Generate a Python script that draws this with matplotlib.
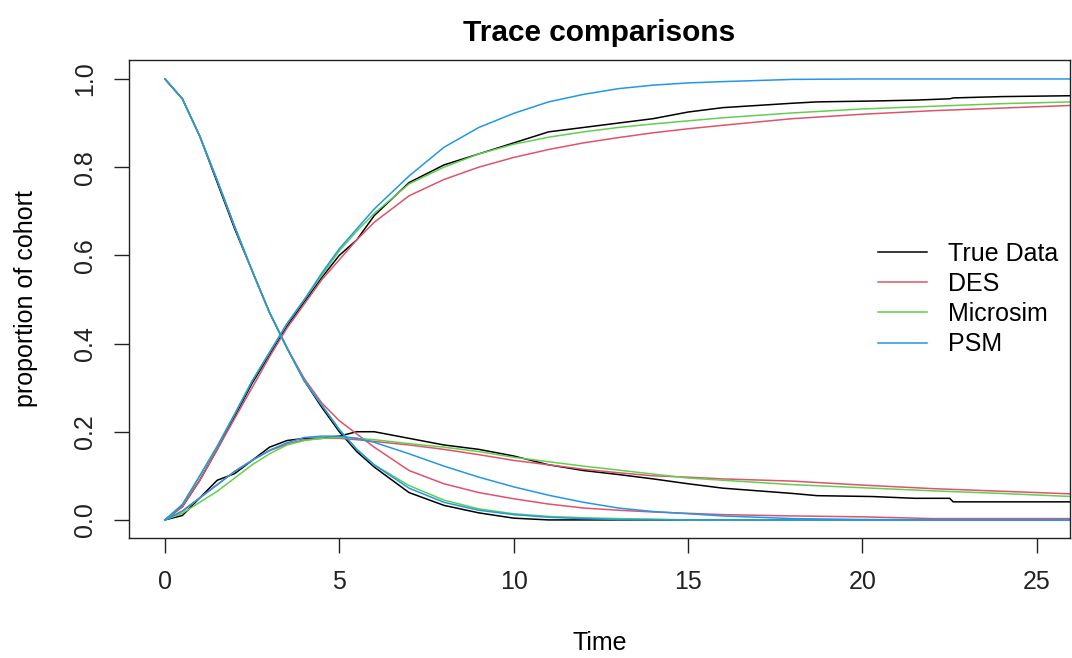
import numpy as np
import matplotlib
matplotlib.use("Agg")
import matplotlib.pyplot as plt

plt.rcParams['font.family'] = ['Liberation Sans', 'DejaVu Sans']

# time grid used for the model traces
t = [0, 0.5, 1, 1.5, 2, 2.5, 3, 3.5, 4, 4.5, 5, 5.5, 6, 7, 8, 9, 10,
     11, 12, 13, 14, 15, 16, 18, 20, 22, 24, 26]

# True Data (own time points, step-like at the end)
t_true = [0, 0.5, 1, 1.5, 2, 2.5, 3, 3.5, 4, 4.5, 5, 5.5, 6, 7, 8, 9, 10,
          11, 12, 13, 14, 15, 16, 18, 18.7, 20.3, 21.5, 22.5, 22.6, 24, 26]
true_pfs = [1.0, 0.955, 0.87, 0.765, 0.66, 0.565, 0.47, 0.39, 0.315, 0.255, 0.2, 0.155, 0.12,
            0.062, 0.033, 0.016, 0.004, 0, 0, 0, 0, 0, 0, 0, 0, 0, 0, 0, 0, 0, 0]
true_prog = [0, 0.01, 0.05, 0.09, 0.105, 0.135, 0.165, 0.18, 0.185, 0.185, 0.19, 0.2, 0.2,
             0.185, 0.17, 0.16, 0.145, 0.125, 0.112, 0.103, 0.093, 0.082, 0.072, 0.06,
             0.055, 0.053, 0.049, 0.049, 0.041, 0.041, 0.041]
true_dead = [0, 0.03, 0.09, 0.16, 0.235, 0.31, 0.375, 0.44, 0.495, 0.55, 0.6, 0.635, 0.69,
             0.765, 0.805, 0.83, 0.855, 0.88, 0.89, 0.9, 0.91, 0.925, 0.935, 0.945,
             0.948, 0.95, 0.952, 0.955, 0.957, 0.96, 0.962]

# DES
des_pfs = [1.0, 0.955, 0.87, 0.77, 0.665, 0.565, 0.47, 0.39, 0.32, 0.265, 0.225, 0.195, 0.165,
           0.112, 0.082, 0.062, 0.048, 0.036, 0.027, 0.022, 0.018, 0.015, 0.012, 0.009,
           0.007, 0.003, 0.003, 0.003]
des_prog = [0, 0.02, 0.05, 0.08, 0.11, 0.135, 0.157, 0.172, 0.182, 0.185, 0.185, 0.182, 0.178,
            0.17, 0.16, 0.148, 0.135, 0.125, 0.115, 0.107, 0.1, 0.097, 0.093, 0.088,
            0.079, 0.071, 0.065, 0.059]
des_dead = [0, 0.03, 0.09, 0.16, 0.23, 0.3, 0.37, 0.435, 0.49, 0.545, 0.59, 0.635, 0.675,
            0.735, 0.772, 0.8, 0.822, 0.84, 0.855, 0.867, 0.878, 0.887, 0.895, 0.91,
            0.92, 0.928, 0.934, 0.94]

# Microsim
mic_pfs = [1.0, 0.955, 0.87, 0.77, 0.665, 0.565, 0.47, 0.39, 0.315, 0.26, 0.205, 0.16, 0.125,
           0.078, 0.045, 0.025, 0.014, 0.008, 0.005, 0.003, 0.002, 0, 0, 0, 0, 0, 0, 0]
mic_prog = [0, 0.015, 0.04, 0.065, 0.095, 0.125, 0.15, 0.17, 0.18, 0.185, 0.187, 0.185, 0.182,
            0.173, 0.165, 0.155, 0.142, 0.132, 0.122, 0.113, 0.104, 0.095, 0.09, 0.08,
            0.073, 0.066, 0.06, 0.053]
mic_dead = [0, 0.035, 0.1, 0.167, 0.24, 0.315, 0.38, 0.445, 0.5, 0.555, 0.61, 0.655, 0.695,
            0.762, 0.8, 0.83, 0.852, 0.868, 0.88, 0.89, 0.898, 0.905, 0.912, 0.923,
            0.932, 0.938, 0.944, 0.948]

# PSM
psm_pfs = [1.0, 0.955, 0.87, 0.77, 0.665, 0.565, 0.47, 0.39, 0.315, 0.26, 0.205, 0.16, 0.125,
           0.072, 0.04, 0.022, 0.012, 0.006, 0.003, 0.001, 0, 0, 0, 0, 0, 0, 0, 0]
psm_prog = [0, 0.02, 0.05, 0.08, 0.11, 0.135, 0.158, 0.175, 0.187, 0.19, 0.19, 0.185, 0.176,
            0.15, 0.122, 0.097, 0.075, 0.056, 0.04, 0.027, 0.019, 0.014, 0.009, 0.003,
            0.001, 0, 0, 0]
psm_dead = [0, 0.035, 0.1, 0.167, 0.24, 0.315, 0.38, 0.445, 0.5, 0.56, 0.615, 0.66, 0.705,
            0.78, 0.845, 0.89, 0.922, 0.948, 0.965, 0.978, 0.986, 0.991, 0.994, 0.999,
            1.0, 1.0, 1.0, 1.0]

labels = ['True Data', 'DES', 'Microsim', 'PSM']
colors = ['black', '#DF536B', '#61D04F', '#2297E6']

fig = plt.figure(figsize=(10.72, 6.58), dpi=100)
ax = fig.add_axes([129/1072, 1 - 538/658, (1070 - 129)/1072, (538 - 60)/658])

lw = 1.1
series = [(t_true, true_pfs, true_prog, true_dead),
          (t, des_pfs, des_prog, des_dead),
          (t, mic_pfs, mic_prog, mic_dead),
          (t, psm_pfs, psm_prog, psm_dead)]
for (tt, a, b, c), col, lab in zip(series, colors, labels):
    ax.plot(tt, a, color=col, lw=lw, label=lab)
    ax.plot(tt, b, color=col, lw=lw)
    ax.plot(tt, c, color=col, lw=lw)

ax.set_xlim(-1.03, 25.95)
ax.set_ylim(-0.041, 1.043)
ax.set_xticks([0, 5, 10, 15, 20, 25])
ax.set_yticks([0, 0.2, 0.4, 0.6, 0.8, 1.0])
ax.set_yticklabels(['0.0', '0.2', '0.4', '0.6', '0.8', '1.0'], rotation=90, va='center')
ax.tick_params(labelsize=18, length=11, width=1, pad=12, colors='#222222')
for s in ax.spines.values():
    s.set_linewidth(1.0)
    s.set_color('#222222')

ax.set_title('Trace comparisons', fontsize=21.5, fontweight='bold', pad=14)
ax.set_xlabel('Time', fontsize=18, labelpad=27)
ax.set_ylabel('proportion of cohort', fontsize=18, labelpad=25)

ax.legend(loc='center left', bbox_to_anchor=(0.796, 0.5), frameon=False, fontsize=18,
          handlelength=1.95, handletextpad=0.85, labelspacing=0.25, borderpad=0,
          borderaxespad=0)

fig.savefig('out.png', dpi=100)
